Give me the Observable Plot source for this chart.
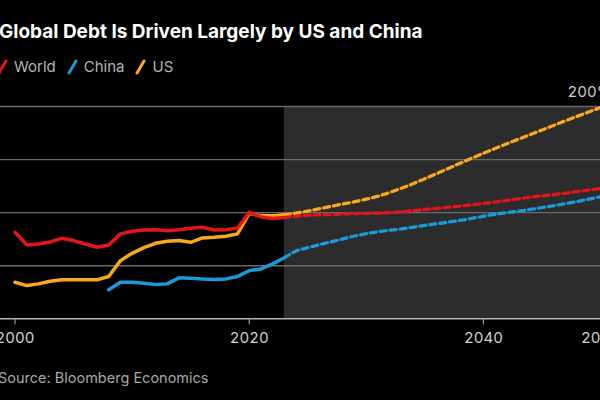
<!DOCTYPE html>
<html>
<head>
<meta charset="utf-8">
<script src="https://cdn.jsdelivr.net/npm/d3@7"></script>
<script src="https://cdn.jsdelivr.net/npm/@observablehq/plot@0.6"></script>
<style>
  html, body { margin: 0; padding: 0; background: #000; }
  #wrap { position: relative; width: 600px; height: 400px; overflow: hidden; background: #000;
          font-family: Inter, "Liberation Sans", sans-serif; }
  #title { position: absolute; left: -1px; top: 20px; color: #fff; font-weight: 700; font-size: 19px;
           line-height: 24px; white-space: nowrap; }
  #legend { position: absolute; left: -3px; top: 57px; display: flex; align-items: center;
            color: #b4b4b4; font-size: 15px; line-height: 20px; white-space: nowrap; }
  #legend .item { display: flex; align-items: center; margin-right: 11px; }
  #legend svg { margin-right: 6px; }
  #chart { position: absolute; left: 0; top: 80px; }
  #source { position: absolute; left: -2px; top: 368px; color: #a8a8a8; font-size: 14.5px;
            line-height: 20px; white-space: nowrap; }
</style>
</head>
<body>
<div id="wrap">
  <div id="title"></div>
  <div id="legend"></div>
  <div id="chart"></div>
  <div id="source"></div>
</div>
<script>
// ---- text ----
const titleText = "Global Debt Is Driven Largely by US and China";
const sourceText = "Source: Bloomberg Economics";

// ---- series ----
const seriesNames = ["World", "China", "US"];
const seriesColors = ["#e5141c", "#1a9ad9", "#f8a81d"];

// historical (solid)
const histYears  = [2000,2001,2002,2003,2004,2005,2006,2007,2008,2009,2010,2011,2012,2013,2014,2015,2016,2017,2018,2019,2020,2021,2022,2023];
const worldHist  = [81.5,69.6,70.5,72.4,75.8,73.7,70.5,67.4,69.6,80.0,82.4,83.7,84.0,83.0,84.0,85.2,86.2,83.7,84.0,85.6,100.3,96.0,94.5,95.5];
const usHist     = [34.4,31.3,32.9,35.4,36.7,36.7,36.7,36.7,39.8,54.8,61.7,67.0,71.1,73.0,73.7,72.1,76.2,76.8,77.7,80.0,99.3,97.2,97.0,98.0];
const chinaYears = [2008,2009,2010,2011,2012,2013,2014,2015,2016,2017,2018,2019,2020,2021,2022,2023];
const chinaHist  = [27.3,34.4,34.4,33.5,32.3,32.9,38.6,38.2,37.6,37.0,37.6,39.8,45.4,47.0,51.7,57.5];

// projections (dashed)
const projYears  = [2023,2024,2025,2027,2029,2031,2033,2035,2038,2041,2044,2047,2050];
const worldProj  = [95.5,96.5,97.5,98.3,99.1,99.6,100.8,103.0,106.2,110.0,114.5,118.3,122.8];
const usProj     = [98.0,99.5,101.5,106.0,110.3,115.5,123.0,132.0,146.5,160.5,173.5,186.5,199.0];
const chinaProj  = [57.5,63.8,67.0,72.5,78.0,82.0,84.7,88.0,92.7,98.5,103.0,108.5,115.0];

// ---- scales / ticks ----
const projectionStart = 2023;
const xDomain = [1998.76, 2050];
const yDomain = [0, 200];
const xTicks = [2000, 2020, 2040, 2050];
const yGrid = [50, 100, 150, 200];
const yLabelTicks = [200];

// ---- title / legend / source ----
document.getElementById("title").textContent = titleText;
document.getElementById("source").textContent = sourceText;
const legend = document.getElementById("legend");
seriesNames.forEach((name, i) => {
  const item = document.createElement("div");
  item.className = "item";
  item.innerHTML = `<svg width="11" height="16"><line x1="2" y1="14" x2="9" y2="2" stroke="${seriesColors[i]}" stroke-width="3" stroke-linecap="round"/></svg><span>${name}</span>`;
  legend.appendChild(item);
});

// ---- tidy data ----
const color = Object.fromEntries(seriesNames.map((n, i) => [n, seriesColors[i]]));
const toRows = (years, values, series) => years.map((year, i) => ({year, value: values[i], series}));
const hist = {
  World: toRows(histYears, worldHist, "World"),
  US: toRows(histYears, usHist, "US"),
  China: toRows(chinaYears, chinaHist, "China")
};
const proj = {
  World: toRows(projYears, worldProj, "World"),
  US: toRows(projYears, usProj, "US"),
  China: toRows(projYears, chinaProj, "China")
};
const drawOrder = ["China", "US", "World"];

const chart = Plot.plot({
  width: 600,
  height: 280,
  marginTop: 26,
  marginBottom: 41.7,
  marginLeft: 0,
  marginRight: 0,
  style: {background: "#000", color: "#cfcfcf", fontSize: "15px", fontFamily: "Inter, 'Liberation Sans', sans-serif"},
  x: {domain: xDomain, axis: null},
  y: {domain: yDomain, axis: null},
  marks: [
    Plot.rect([projectionStart], {x1: d => d, x2: () => xDomain[1], y1: () => yDomain[0], y2: () => yDomain[1], fill: "#2c2c2c"}),
    Plot.ruleY(yGrid, {stroke: "#6a6a6a", strokeWidth: 1.3}),
    Plot.ruleY([0], {stroke: "#b4b4b4", strokeWidth: 1.6}),
    Plot.axisX({ticks: xTicks, tickFormat: d => String(d), tickSize: 6, tickPadding: 8, stroke: "#b4b4b4", fill: "#d2d2d2", fontSize: 15, label: null}),
    Plot.axisY({ticks: yLabelTicks, anchor: "right", tickSize: 0, tickPadding: 0, tickFormat: d => `${d}%`, textAnchor: "start", dx: -33, dy: -14, fill: "#cfcfcf", fontSize: 15, label: null}),
    ...drawOrder.map(s => Plot.line(proj[s], {x: "year", y: "value", stroke: color[s], strokeWidth: 3.3, strokeDasharray: "6,4", curve: "monotone-x"})),
    ...drawOrder.map(s => Plot.line(hist[s], {x: "year", y: "value", stroke: color[s], strokeWidth: 3.5, strokeLinejoin: "round", strokeLinecap: "round"}))
  ]
});
document.getElementById("chart").appendChild(chart);
</script>
</body>
</html>
